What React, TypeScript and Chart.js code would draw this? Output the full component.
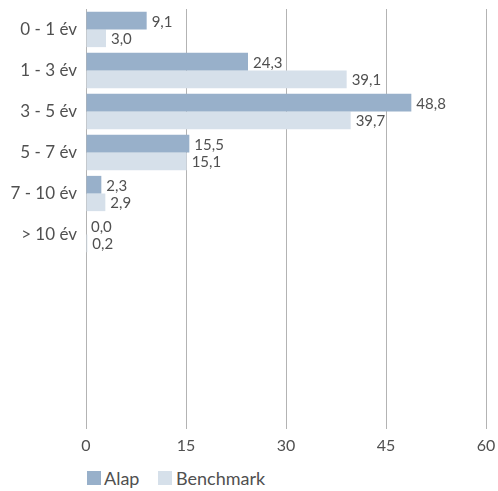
import React, { useEffect, useRef } from "react";
import { Chart, registerables } from "chart.js";

Chart.register(...registerables);

const categories = ["0 - 1 év", "1 - 3 év", "3 - 5 év", "5 - 7 év", "7 - 10 év", "> 10 év", "", "", "", ""];
const alapValues = [9.1, 24.3, 48.8, 15.5, 2.3, 0.0, null, null, null, null];
const benchmarkValues = [3.0, 39.1, 39.7, 15.1, 2.9, 0.2, null, null, null, null];
const seriesNames = ["Alap", "Benchmark"];
const xTicks = [0, 15, 30, 45, 60];

const ALAP_COLOR = "#98b0ca";
const BENCH_COLOR = "#d6e0ea";
const TEXT_COLOR = "#505050";
const FONT = "Lato, 'Open Sans', sans-serif";

const valueLabels = {
  id: "valueLabels",
  afterDatasetsDraw(chart: any) {
    const ctx = chart.ctx;
    ctx.save();
    ctx.font = `15px ${FONT}`;
    ctx.fillStyle = TEXT_COLOR;
    ctx.textAlign = "left";
    ctx.textBaseline = "middle";
    chart.data.datasets.forEach((ds: any, di: number) => {
      const meta = chart.getDatasetMeta(di);
      meta.data.forEach((el: any, i: number) => {
        const v = ds.data[i];
        if (v === null || v === undefined) return;
        ctx.fillText(v.toFixed(1).replace(".", ","), el.x + 5, el.y + 1);
      });
    });
    ctx.restore();
  },
};

export default function App() {
  const ref = useRef<HTMLCanvasElement>(null);
  useEffect(() => {
    if (!ref.current) return;
    const chart = new Chart(ref.current, {
      type: "bar",
      data: {
        labels: categories,
        datasets: [
          { label: seriesNames[0], data: alapValues as any, backgroundColor: ALAP_COLOR, borderWidth: 0 },
          { label: seriesNames[1], data: benchmarkValues as any, backgroundColor: BENCH_COLOR, borderWidth: 0 },
        ],
      },
      options: {
        indexAxis: "y",
        responsive: false,
        animation: false,
        categoryPercentage: 0.86,
        barPercentage: 1,
        layout: { padding: { top: 9, right: 12, left: 0, bottom: 0 } },
        plugins: { legend: { display: false }, tooltip: { enabled: false } },
        scales: {
          x: {
            min: 0,
            max: 60,
            afterBuildTicks(scale: any) {
              scale.ticks = xTicks.map((v) => ({ value: v }));
            },
            afterFit(scale: any) {
              scale.height = 41;
              scale.paddingLeft = 0;
              scale.paddingRight = 0;
            },
            grid: { color: "#b3b3b3", lineWidth: 1, tickLength: 10, drawTicks: true },
            border: { display: false },
            ticks: { color: TEXT_COLOR, font: { family: FONT, size: 16 }, padding: 7, maxRotation: 0 },
          },
          y: {
            afterFit(scale: any) {
              scale.width = 86;
              scale.paddingTop = 0;
              scale.paddingBottom = 0;
            },
            grid: { display: false, drawTicks: false },
            border: { display: false },
            ticks: { color: TEXT_COLOR, font: { family: FONT, size: 17 }, padding: 9, autoSkip: false },
          },
        },
      },
      plugins: [valueLabels],
    });
    return () => chart.destroy();
  }, []);

  const legendPos = [
    { box: 87, text: 104 },
    { box: 158, text: 176 },
  ];

  return (
    <div style={{ position: "absolute", left: 0, top: 0, width: 498, height: 491, background: "#fff" }}>
      <canvas ref={ref} width={498} height={460} style={{ display: "block" }} />
      {seriesNames.map((n, i) => (
        <React.Fragment key={n}>
          <div
            style={{
              position: "absolute",
              left: legendPos[i].box,
              top: 471,
              width: 14,
              height: 14,
              background: i === 0 ? ALAP_COLOR : BENCH_COLOR,
            }}
          />
          <div
            style={{
              position: "absolute",
              left: legendPos[i].text,
              top: 468,
              height: 20,
              lineHeight: "20px",
              fontFamily: FONT,
              fontSize: 18,
              color: TEXT_COLOR,
              whiteSpace: "nowrap",
            }}
          >
            {n}
          </div>
        </React.Fragment>
      ))}
    </div>
  );
}
